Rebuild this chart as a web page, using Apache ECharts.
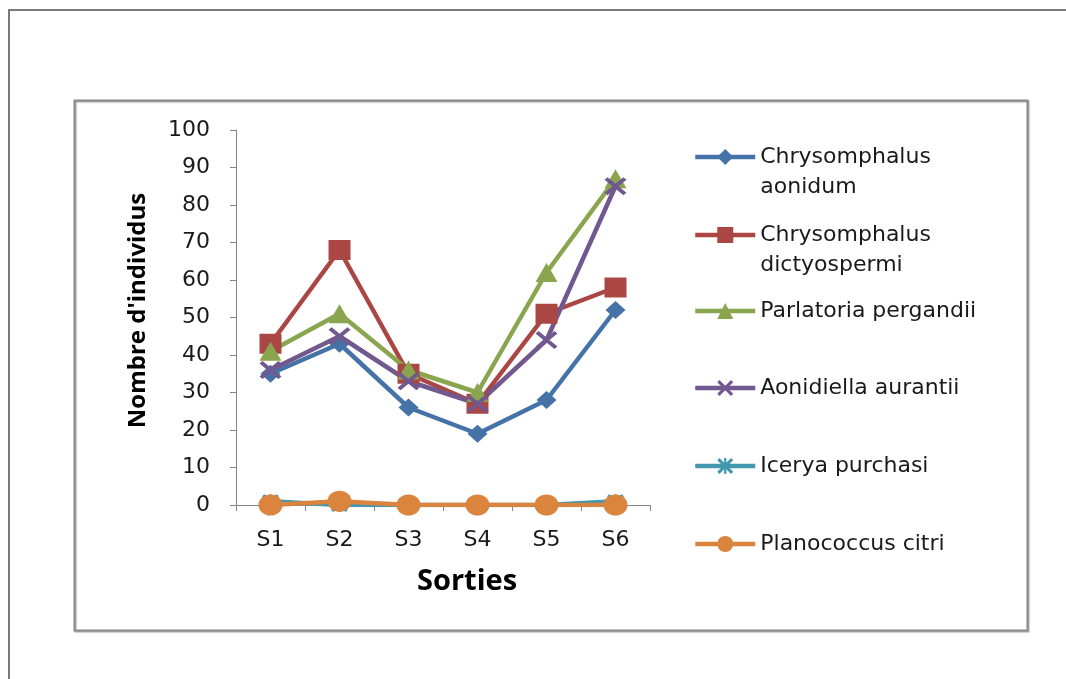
<!DOCTYPE html>
<html>
<head>
<meta charset="utf-8">
<style>
  html, body { margin: 0; padding: 0; background: #ffffff; }
  #chart { width: 1066px; height: 679px; }
</style>
<script src="https://cdn.jsdelivr.net/npm/echarts@6/dist/echarts.min.js"></script>
</head>
<body>
<div id="chart"></div>
<script>
// Sampling rounds
const sorties = ['S1', 'S2', 'S3', 'S4', 'S5', 'S6'];

// Number of individuals per species and round
const chrysomphalusAonidum = [35, 43, 26, 19, 28, 52];
const chrysomphalusDictyospermi = [43, 68, 35, 27, 51, 58];
const parlatoriaPergandii = [41, 51, 36, 30, 62, 87];
const aonidiellaAurantii = [36, 45, 33, 27, 44, 85];
const iceryaPurchasi = [1, 0, 0, 0, 0, 1];
const planococcusCitri = [0, 1, 0, 0, 0, 0];

const yTicks = { min: 0, max: 100, interval: 10 };

// Marker shapes drawn as filled paths
const CROSS = 'path://M0,1.4L1.4,0L10,8.6L8.6,10Z M8.6,0L10,1.4L1.4,10L0,8.6Z';
const STAR = 'path://M0,1.4L1.4,0L10,8.6L8.6,10Z M8.6,0L10,1.4L1.4,10L0,8.6Z M4.3,0L5.7,0L5.7,10L4.3,10Z';

const speciesList = [
  { name: 'Chrysomphalus aonidum', label: 'Chrysomphalus\naonidum', data: chrysomphalusAonidum,
    color: '#4572A7', symbol: 'diamond', size: [20, 18], legendCenter: 157 },
  { name: 'Chrysomphalus dictyospermi', label: 'Chrysomphalus\ndictyospermi', data: chrysomphalusDictyospermi,
    color: '#AA4643', symbol: 'rect', size: [22, 20], legendCenter: 235 },
  { name: 'Parlatoria pergandii', label: 'Parlatoria pergandii', data: parlatoriaPergandii,
    color: '#89A54E', symbol: 'triangle', size: [22, 19], legendCenter: 311 },
  { name: 'Aonidiella aurantii', label: 'Aonidiella aurantii', data: aonidiellaAurantii,
    color: '#71588F', symbol: CROSS, size: [22, 18], legendCenter: 388 },
  { name: 'Icerya purchasi', label: 'Icerya purchasi', data: iceryaPurchasi,
    color: '#4198AF', symbol: STAR, size: [17, 14], legendCenter: 466 },
  { name: 'Planococcus citri', label: 'Planococcus citri', data: planococcusCitri,
    color: '#DB843D', symbol: 'circle', size: [24, 21], legendCenter: 544 }
];

const LINE_H = 30;
const legendFont = { fontFamily: 'DejaVu Sans', fontSize: 22, color: '#1a1a1a', lineHeight: LINE_H };

// One legend block per species so each row sits at its own height.
// Two-line names get an empty leading line so the key is level with the first line.
const legends = speciesList.map(s => {
  const twoLines = s.label.indexOf('\n') >= 0;
  return {
    data: [s.name],
    left: 693,
    top: s.legendCenter - (twoLines ? 45 : 15),
    orient: 'vertical',
    itemWidth: 60,
    itemHeight: 20,
    padding: 0,
    selectedMode: false,
    lineStyle: { width: 4.5 },
    formatter: () => (twoLines ? '\n' + s.label : s.label),
    textStyle: legendFont
  };
});

const series = speciesList.map(s => ({
  name: s.name,
  type: 'line',
  data: s.data,
  symbol: s.symbol,
  symbolSize: s.size,
  color: s.color,
  lineStyle: { width: 4.5, color: s.color },
  itemStyle: { color: s.color },
  emphasis: { disabled: true },
  animation: false
}));

const axisGrey = '#868686';
const labelFont = { fontFamily: 'DejaVu Sans', fontSize: 22, color: '#1a1a1a' };

const chart = echarts.init(document.getElementById('chart'), null, { renderer: 'canvas' });
chart.setOption({
  backgroundColor: '#ffffff',
  animation: false,
  graphic: [
    { type: 'rect', silent: true, z: -10,
      shape: { x: 9, y: 10, width: 1100, height: 720 },
      style: { fill: 'none', stroke: '#7a7a7a', lineWidth: 2 } },
    { type: 'rect', silent: true, z: -10,
      shape: { x: 74.5, y: 100.5, width: 953, height: 530 },
      style: { fill: 'none', stroke: '#8a8a8a', lineWidth: 2,
               shadowColor: 'rgba(0,0,0,0.35)', shadowOffsetX: 1, shadowOffsetY: 1, shadowBlur: 1 } }
  ],
  legend: legends,
  grid: { left: 236, top: 130, width: 414, height: 375, containLabel: false },
  xAxis: {
    type: 'category',
    data: sorties,
    boundaryGap: true,
    name: 'Sorties',
    nameLocation: 'middle',
    nameGap: 62,
    nameTextStyle: { fontFamily: 'Open Sans', fontWeight: 'bold', fontSize: 29, color: '#000000',
                     padding: [0, 0, 0, 48] },
    axisLine: { lineStyle: { color: axisGrey, width: 1 } },
    axisTick: { show: true, length: 6, alignWithLabel: false, lineStyle: { color: axisGrey } },
    axisLabel: Object.assign({ margin: 24 }, labelFont),
    splitLine: { show: false }
  },
  yAxis: {
    type: 'value',
    min: yTicks.min,
    max: yTicks.max,
    interval: yTicks.interval,
    name: "Nombre d'individus",
    nameLocation: 'middle',
    nameGap: 86,
    nameTextStyle: { fontFamily: 'Open Sans', fontWeight: 'bold', fontSize: 24, color: '#000000',
                     padding: [0, 0, 0, 14] },
    axisLine: { show: true, lineStyle: { color: axisGrey, width: 1 } },
    axisTick: { show: true, length: 6, lineStyle: { color: axisGrey } },
    axisLabel: Object.assign({ margin: 26 }, labelFont),
    splitLine: { show: false }
  },
  series: series
});
</script>
</body>
</html>
